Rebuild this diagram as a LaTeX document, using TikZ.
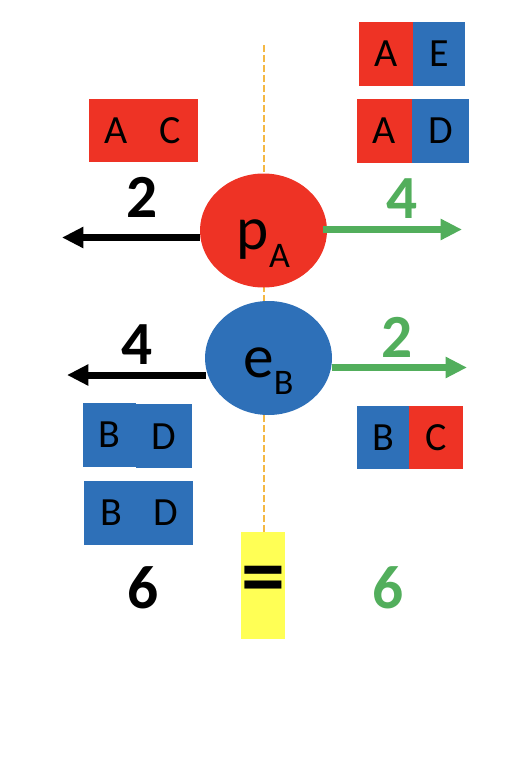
\documentclass[tikz,border=0pt]{standalone}
\usepackage{fontspec}
\setmainfont{Carlito}
\usetikzlibrary{shapes.geometric, arrows.meta, positioning, backgrounds, calc}

\definecolor{cred}{RGB}{238,51,37}
\definecolor{cblue}{RGB}{46,112,184}
\definecolor{cgreen}{RGB}{82,174,92}
\definecolor{cyellow}{RGB}{255,255,85}
\definecolor{corange}{RGB}{244,184,68}

\begin{document}
\begin{tikzpicture}[
    x=0.75pt, y=-0.75pt,
    % --- STYLES ---
    cell/.style={rectangle, inner sep=0pt, minimum width=40.5pt, minimum height=48pt, font=\fontsize{30}{30}\selectfont},
    redcell/.style={cell, fill=cred},
    bluecell/.style={cell, fill=cblue},
    particle/.style={ellipse, inner sep=0pt, minimum width=95.25pt, minimum height=85.5pt, font=\fontsize{46}{46}\selectfont},
    count/.style={font=\fontsize{46}{46}\selectfont\bfseries},
    lossarrow/.style={-{Triangle[length=16pt, width=15pt]}, line width=5.25pt, black},
    gainarrow/.style={-{Triangle[length=16pt, width=15pt]}, line width=4.75pt, cgreen},
    divider/.style={dash pattern=on 5.5pt off 2pt, line width=2pt, corange}
]
    \useasboundingbox (0,0) rectangle (524,770);

    % --- NODES ---

    % Particles on the dividing line
    \node[particle, fill=cred] (pA) at (263.5,230.5) {\raisebox{-14.6pt}[0pt][0pt]{p\raisebox{-13pt}{\fontsize{27}{27}\selectfont A}}};
    \node[particle, fill=cblue] (eB) at (268.5,358) {\raisebox{-14.3pt}[0pt][0pt]{e\raisebox{-13pt}{\fontsize{27}{27}\selectfont B}}};

    % Pairs (each pair is two cells side by side)
    \node[redcell, minimum width=40.9pt, minimum height=47.25pt] (ac1) at (116.25,130.5) {A};
    \node[redcell, minimum width=40.9pt, minimum height=47.25pt, right=-0.5pt of ac1] (ac2) {C};

    \node[redcell] (ae1) at (386,54) {A};
    \node[bluecell, minimum width=39pt, right=-0.5pt of ae1] (ae2) {E};

    \node[redcell, minimum width=41.25pt] (ad1) at (384.5,131) {A};
    \node[bluecell, minimum width=42.75pt, right=-0.5pt of ad1] (ad2) {D};

    \node[bluecell, minimum width=39.75pt] (bd1) at (109.5,435) {B};
    \node[bluecell, minimum width=42pt, right=-0.5pt of bd1, yshift=-1.1pt] (bd2) {D};

    \node[bluecell, minimum width=40.9pt] (bd3) at (111.25,513) {B};
    \node[bluecell, minimum width=40.9pt, right=-0.5pt of bd3] (bd4) {D};

    \node[bluecell, minimum width=39pt, minimum height=47.25pt] (bc1) at (383,437.5) {B};
    \node[redcell, minimum width=40.5pt, minimum height=47.25pt, right=-0.5pt of bc1] (bc2) {C};

    % Counts
    \node[count] (pAlost) at (142,197.5) {2};
    \node[count, text=cgreen] (pAgain) at (402,199) {4};
    \node[count] (eBlost) at (137,345) {4};
    \node[count, text=cgreen] (eBgain) at (397,337.5) {2};
    \node[count] (lostsum) at (143,588) {6};
    \node[count, text=cgreen] (gainsum) at (388,588) {6};

    % Equals box
    \node[fill=cyellow, inner sep=0pt, minimum width=33pt, minimum height=80.25pt, font=\fontsize{66}{66}\selectfont\bfseries] (eq) at (263,585.5) {=};

    % Arrow ends
    \coordinate (pAl) at (62,237.5);
    \coordinate (pAr) at (462,229.5);
    \coordinate (eBl) at (67,375);
    \coordinate (eBr) at (467,367.5);
    \coordinate (divtop) at (264,45);

    % --- DIVIDER ---
    \begin{scope}[on background layer]
        \draw[divider] (divtop) -- (divtop |- eq.north);
    \end{scope}

    % --- FLOWS ---
    \draw[lossarrow] (pA.west |- pAl) -- (pAl);
    \draw[gainarrow] ($(pA.east |- pAr)+(-4,0)$) -- (pAr);
    \draw[lossarrow] ($(eB.west |- eBl)+(1,0)$) -- (eBl);
    \draw[gainarrow] (eB.east |- eBr) -- (eBr);

\end{tikzpicture}
\end{document}
